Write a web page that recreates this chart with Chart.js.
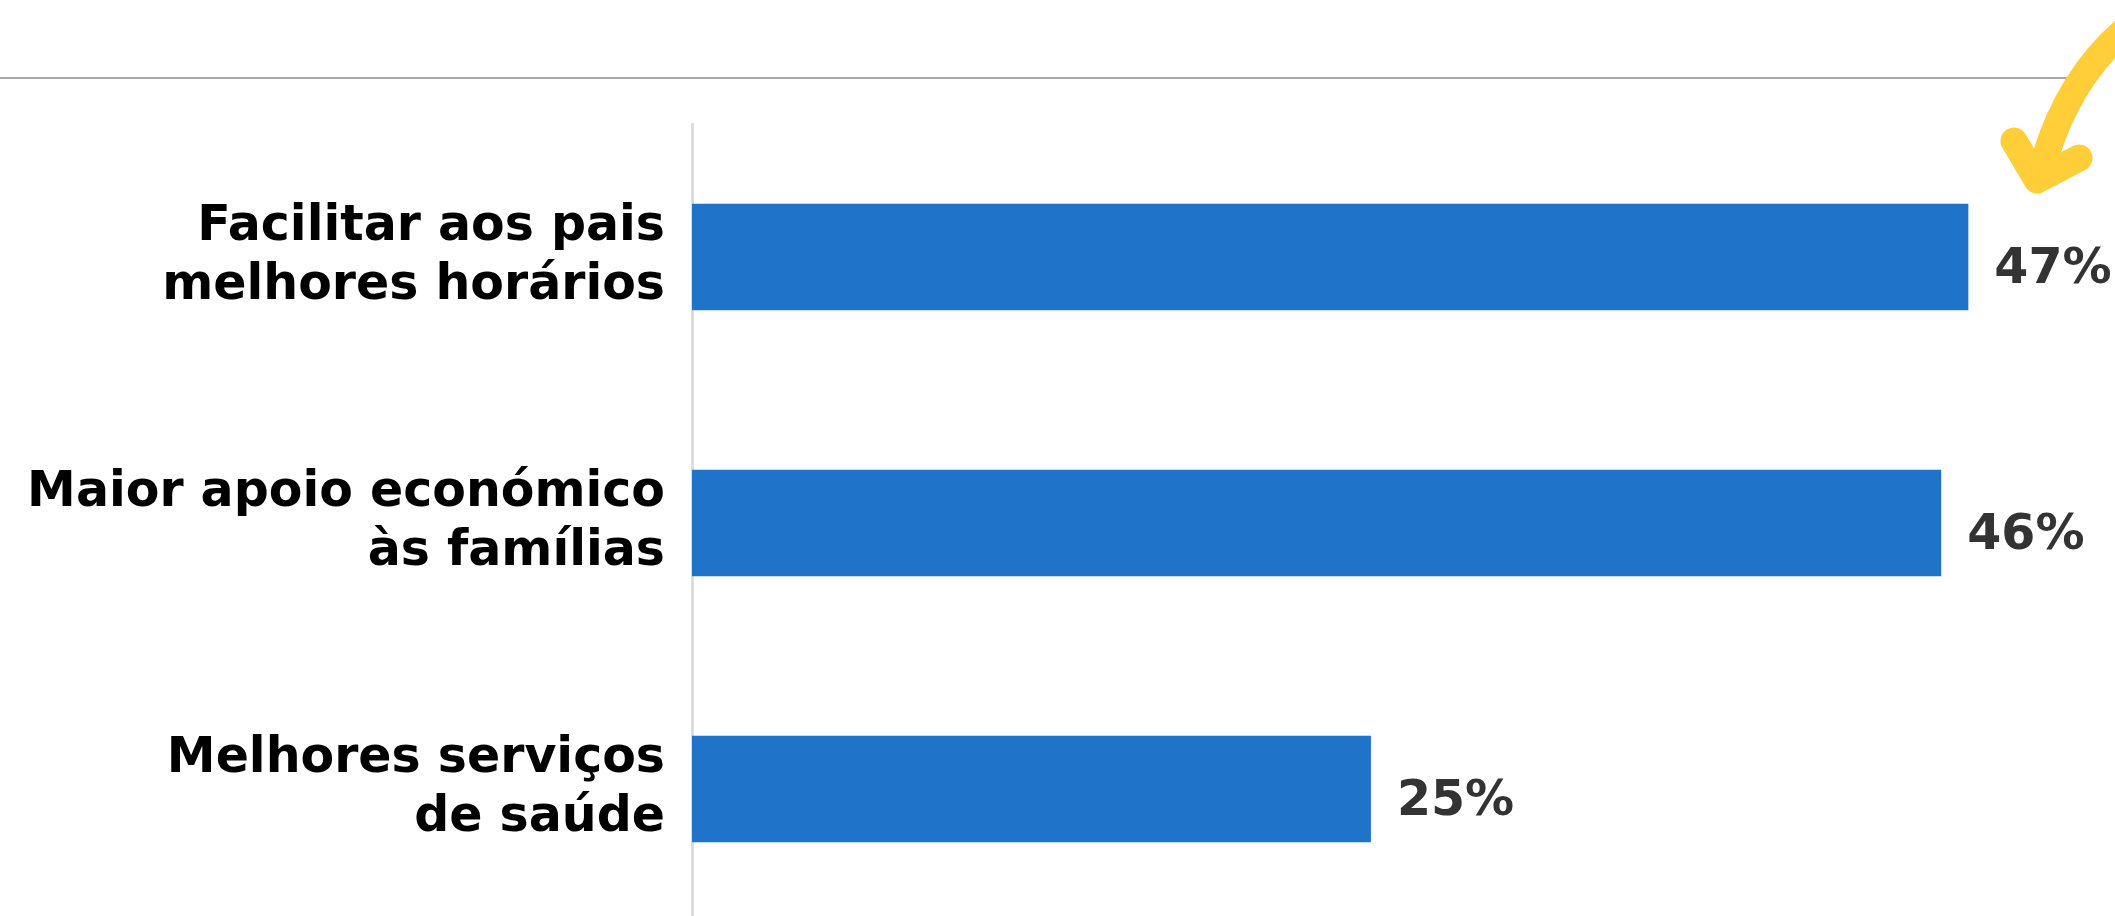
<!DOCTYPE html>
<html>
<head>
<meta charset="utf-8">
<script src="https://cdn.jsdelivr.net/npm/chart.js@4.4.1/dist/chart.umd.min.js"></script>
<style>
    body { margin: 0; background: #fff; }
    #wrap { position: relative; width: 2115px; height: 916px; overflow: hidden; }
    #topline { position: absolute; left: 0; top: 77px; width: 2070px; height: 2px; background: #a8a8a8; }
    #arrow { position: absolute; left: 0; top: 0; }
    canvas { position: absolute; left: 0; top: 0; }
</style>
</head>
<body>
<div id="wrap">
    <div id="topline"></div>
    <canvas id="barChart" width="2115" height="922"></canvas>
    <svg id="arrow" width="2115" height="916">
        <path d="M 2140 18 Q 2066 72 2040 176" fill="none" stroke="#FFCE38" stroke-width="27" stroke-linecap="round"/>
        <path d="M 2014 141 L 2037 180 L 2079 158" fill="none" stroke="#FFCE38" stroke-width="27" stroke-linecap="round" stroke-linejoin="round"/>
    </svg>
</div>
<script>
const categories = [
    ['Facilitar aos pais', 'melhores horários'],
    ['Maior apoio económico', 'às famílias'],
    ['Melhores serviços', 'de saúde']
];
const values = [47, 46, 25];
const valueLabels = ['47%', '46%', '25%'];

const fontFamily = "'DejaVu Sans', sans-serif";

// draws the percentage next to each bar
const valueLabelPlugin = {
    id: 'valueLabels',
    afterDatasetsDraw(chart) {
        const ctx = chart.ctx;
        const meta = chart.getDatasetMeta(0);
        ctx.save();
        ctx.font = "bold 49px " + fontFamily;
        ctx.fillStyle = '#333333';
        ctx.textAlign = 'left';
        ctx.textBaseline = 'middle';
        meta.data.forEach((bar, i) => {
            ctx.fillText(valueLabels[i], bar.x + 26, bar.y + 13);
        });
        ctx.restore();
    }
};

new Chart(document.getElementById('barChart'), {
    type: 'bar',
    data: {
        labels: categories,
        datasets: [{
            data: values,
            backgroundColor: '#1F73C9',
            borderWidth: 0,
            categoryPercentage: 1,
            barPercentage: 0.4
        }]
    },
    options: {
        indexAxis: 'y',
        responsive: false,
        animation: false,
        devicePixelRatio: 1,
        layout: { padding: { top: 124, right: 0, bottom: 0, left: 0 } },
        plugins: {
            legend: { display: false },
            tooltip: { enabled: false }
        },
        scales: {
            x: {
                display: false,
                min: 0,
                max: 52.4
            },
            y: {
                afterFit: function (scale) {
                    scale.width = 692;
                    scale.paddingTop = 0;
                    scale.paddingBottom = 0;
                },
                grid: { display: false, drawTicks: false },
                border: { display: true, color: '#dcdcdc', width: 3 },
                ticks: {
                    padding: 27,
                    color: '#000',
                    font: { family: fontFamily, size: 49, weight: 'bold', lineHeight: 1.2 }
                }
            }
        }
    },
    plugins: [valueLabelPlugin]
});
</script>
</body>
</html>
